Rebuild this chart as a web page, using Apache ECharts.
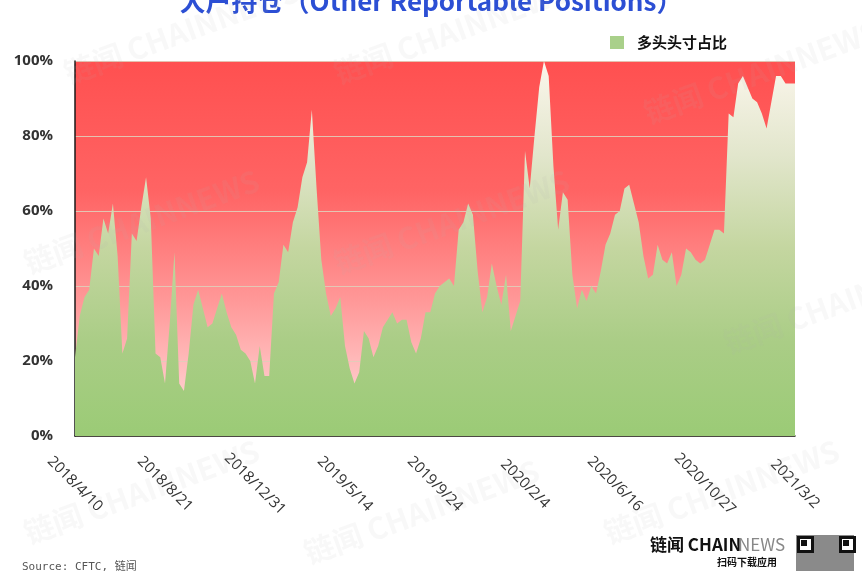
<!DOCTYPE html>
<html>
<head>
<meta charset="utf-8">
<script src="https://cdn.jsdelivr.net/npm/echarts@6/dist/echarts.min.js"></script>
<style>
html,body{margin:0;padding:0;background:#fff;}
#chart{width:862px;height:571px;}
</style>
</head>
<body>
<div id="chart"></div>
<script>
// Weekly dates (CFTC report dates), labelled every 19 observations
var labelDates = ['2018/4/10','2018/8/21','2018/12/31','2019/5/14','2019/9/24','2020/2/4','2020/6/16','2020/10/27','2021/3/2'];
var yTicks = [0, 20, 40, 60, 80, 100];

// 多头头寸占比 (%)
var longShare = [
  21,32,37,39,50,48,58,54,62,48,
  22,26,54,52,61,69,58,22,21,14,
  30,49,14,12,22,35,39,34,29,30,
  34,38,33,29,27,23,22,20,14,24,
  16,16,38,41,51,49,57,61,69,73,
  87,66,47,38,32,34,37,24,18,14,
  17,28,26,21,24,29,31,33,30,31,
  31,25,22,26,33,33,38,40,41,42,
  40,55,57,62,59,44,33,37,46,40,
  35,43,28,32,36,76,66,80,93,100,
  96,72,55,65,63,43,34,39,36,40,
  38,44,51,54,59,60,66,67,62,57,
  48,42,43,51,47,46,49,40,43,50,
  49,47,46,47,51,55,55,54,86,85,
  94,96,93,90,89,86,82,89,96,96,
  94,94,94
];

// category labels: one per weekly observation; labelled ones every 19 steps
var categories = [];
(function(){
  var n = longShare.length;
  for (var i = 0; i < n; i++) {
    if (i % 19 === 0 && labelDates[i/19]) categories.push(labelDates[i/19]);
    else categories.push('w' + i);
  }
})();

var chart = echarts.init(document.getElementById('chart'));
var fontCn = '"Noto Sans CJK SC", "Liberation Sans", sans-serif';
var wm = [];
var wmPos = [[60,60],[330,60],[640,100],[20,250],[330,250],[720,330],[20,520],[300,540],[600,520]];
wmPos.forEach(function(p){
  wm.push({type:'text', x:p[0], y:p[1], rotation: Math.PI/9, z:100, silent:true,
    style:{text:'链闻 CHAINNEWS', fill:'rgba(180,180,180,0.09)', font:'bold 30px ' + fontCn}});
});
// QR-like decoration
var qr = [
  {type:'rect', left: 796, top: 535, silent:true, shape:{width: 58, height: 36}, style:{fill:'#8a8a8a'}},
  {type:'rect', left: 797, top: 536, silent:true, shape:{width: 14, height: 14}, style:{fill:'#fff', stroke:'#111', lineWidth: 3}},
  {type:'rect', left: 839, top: 536, silent:true, shape:{width: 14, height: 14}, style:{fill:'#fff', stroke:'#111', lineWidth: 3}},
  {type:'rect', left: 801, top: 540, silent:true, shape:{width: 6, height: 6}, style:{fill:'#111'}},
  {type:'rect', left: 843, top: 540, silent:true, shape:{width: 6, height: 6}, style:{fill:'#111'}}
];
var option = {
  animation: false,
  backgroundColor: '#ffffff',
  title: {
    text: '大户持仓（Other Reportable Positions）',
    left: 'center',
    top: -17,
    textStyle: {color: '#2c4fd4', fontSize: 26, fontWeight: 'bold', fontFamily: '"Liberation Sans Narrow", ' + fontCn}
  },
  legend: {
    data: ['多头头寸占比'],
    right: 130,
    top: 30,
    icon: 'rect',
    itemWidth: 14,
    itemHeight: 13,
    itemGap: 10,
    textStyle: {color: '#111', fontSize: 15, fontWeight: 'bold', fontFamily: fontCn, padding: [0, 0, 0, 8]}
  },
  grid: {
    left: 75, right: 67, top: 61, bottom: 135,
    show: true,
    borderWidth: 0,
    backgroundColor: new echarts.graphic.LinearGradient(0, 0, 0, 1, [
      {offset: 0, color: '#ff5050'},
      {offset: 0.35, color: '#ff6464'},
      {offset: 0.65, color: '#ff9a9a'},
      {offset: 0.85, color: '#ffc4c4'},
      {offset: 1, color: '#ffe4e4'}
    ])
  },
  xAxis: {
    type: 'category',
    data: categories,
    boundaryGap: false,
    axisLine: {show: true, lineStyle: {color: '#1a1a1a', width: 1.5}},
    axisTick: {show: false},
    axisLabel: {
      interval: 18,
      rotate: -45,
      align: 'center',
      verticalAlign: 'middle',
      margin: 48,
      color: '#333',
      fontSize: 15,
      fontFamily: '"Open Sans", "Liberation Sans", sans-serif',
      formatter: function(v){ return v.charAt(0) === 'w' ? '' : v; }
    },
    splitLine: {show: false}
  },
  yAxis: {
    type: 'value',
    min: 0, max: 100, interval: 20,
    axisLine: {show: true, lineStyle: {color: '#1a1a1a', width: 1.5}},
    axisTick: {show: false},
    axisLabel: {
      margin: 22,
      color: '#333',
      fontSize: 15,
      fontWeight: 'bold',
      fontFamily: '"Open Sans", "Liberation Sans", sans-serif',
      formatter: function(v){ return v + '%'; }
    },
    splitLine: {show: true, lineStyle: {color: 'rgba(225,205,185,0.9)', width: 1}}
  },
  series: [{
    name: '多头头寸占比',
    type: 'line',
    data: longShare,
    symbol: 'none',
    lineStyle: {width: 0},
    itemStyle: {color: '#a9d08a'},
    areaStyle: {
      opacity: 1,
      color: new echarts.graphic.LinearGradient(0, 0, 0, 1, [
        {offset: 0, color: '#fbf6ec'},
        {offset: 0.25, color: '#e2e6cc'},
        {offset: 0.5, color: '#c4d6a0'},
        {offset: 0.75, color: '#aacd86'},
        {offset: 1, color: '#9bcb76'}
      ])
    }
  }],
  graphic: wm.concat([
    {type:'text', left: 22, top: 562, silent:true,
     style:{text:'Source: CFTC, 链闻', fill:'#555', font:'11px "DejaVu Sans Mono", ' + fontCn}},
    {type:'text', left: 650, top: 536, silent:true,
     style:{text:'链闻 CHAIN', fill:'#111', font:'bold 17px "Liberation Sans Narrow", ' + fontCn}},
    {type:'text', left: 738, top: 536, silent:true,
     style:{text:'NEWS', fill:'#888', font:'17px "Liberation Sans Narrow", ' + fontCn}},
    {type:'text', left: 717, top: 557, silent:true,
     style:{text:'扫码下载应用', fill:'#111', font:'bold 10px ' + fontCn}}
  ]).concat(qr)
};
chart.setOption(option);
</script>
</body>
</html>
